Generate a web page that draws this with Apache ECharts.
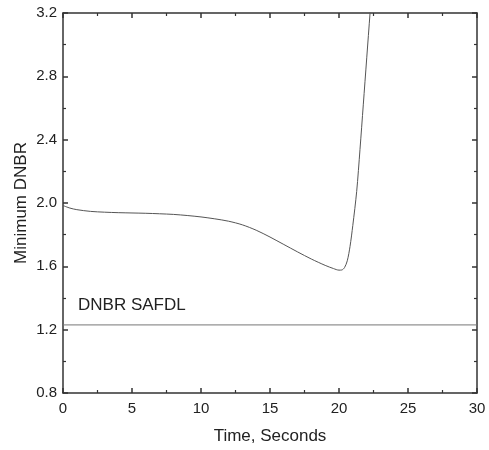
<!DOCTYPE html>
<html>
<head>
<meta charset="utf-8">
<script src="https://cdn.jsdelivr.net/npm/echarts@6/dist/echarts.min.js"></script>
<style>
html,body{margin:0;padding:0;background:#fff;}
#chart{width:489px;height:450px;}
</style>
</head>
<body>
<div id="chart"></div>
<script>
// Data
const timeSec = [0, 0.5, 1, 2, 3, 4, 5, 6, 7, 8, 9, 10, 11, 12, 13, 14, 15, 16, 17, 18, 19, 19.6, 20, 20.2, 20.4, 20.6, 20.8, 21.0, 21.28, 21.52, 21.76, 22.01, 22.25, 22.5];
const minDNBR = [1.984, 1.968, 1.958, 1.947, 1.942, 1.939, 1.937, 1.935, 1.932, 1.928, 1.921, 1.912, 1.900, 1.885, 1.862, 1.828, 1.785, 1.738, 1.691, 1.646, 1.606, 1.586, 1.576, 1.577, 1.592, 1.635, 1.726, 1.858, 2.072, 2.337, 2.62, 2.917, 3.2, 3.5];
const safdlValue = 1.23;
const safdlLabel = 'DNBR SAFDL';
const xTicks = [0, 5, 10, 15, 20, 25, 30];
const yTicks = [0.8, 1.2, 1.6, 2.0, 2.4, 2.8, 3.2];

const chart = echarts.init(document.getElementById('chart'));
const font = 'Liberation Sans, Arial, sans-serif';
const axisCol = '#333';

const curve = timeSec.map((t, i) => [t, minDNBR[i]]);
const safdl = [[xTicks[0], safdlValue], [xTicks[xTicks.length - 1], safdlValue]];

function xAx(pos, labels) {
  return {
    type: 'value', position: pos, min: 0, max: 30, interval: 5,
    axisLine: {show: true, onZero: false, lineStyle: {color: axisCol, width: 1.5}},
    axisTick: {show: true, inside: true, length: 5, lineStyle: {color: axisCol, width: 1.5}},
    minorTick: {show: true, splitNumber: 2, length: 3, lineStyle: {color: axisCol, width: 1.2}},
    axisLabel: {show: labels, color: '#222', fontSize: 15, fontFamily: font, margin: 8},
    splitLine: {show: false},
    name: labels ? 'Time, Seconds' : '', nameLocation: 'middle', nameGap: 35,
    nameMoveOverlap: false,
    nameTextStyle: {color: '#222', fontSize: 17, fontFamily: font}
  };
}
function yAx(pos, labels) {
  return {
    type: 'value', position: pos, min: 0.8, max: 3.2, interval: 0.4,
    axisLine: {show: true, onZero: false, lineStyle: {color: axisCol, width: 1.5}},
    axisTick: {show: true, inside: true, length: 5, lineStyle: {color: axisCol, width: 1.5}},
    minorTick: {show: true, splitNumber: 2, length: 3, lineStyle: {color: axisCol, width: 1.2}},
    axisLabel: {show: labels, color: '#222', fontSize: 15, fontFamily: font, margin: 6,
      formatter: v => v.toFixed(1)},
    splitLine: {show: false},
    name: labels ? 'Minimum DNBR' : '', nameLocation: 'middle', nameGap: 33,
    nameMoveOverlap: false,
    nameTextStyle: {color: '#222', fontSize: 17, fontFamily: font}
  };
}

chart.setOption({
  animation: false,
  backgroundColor: '#fff',
  grid: {left: 63, right: 12, top: 13, bottom: 56, containLabel: false},
  xAxis: [xAx('bottom', true), xAx('top', false)],
  yAxis: [yAx('left', true), yAx('right', false)],
  series: [
    {type: 'line', data: curve, showSymbol: false, smooth: 0.3, clip: true,
     lineStyle: {color: '#555', width: 1}, xAxisIndex: 0, yAxisIndex: 0},
    {type: 'line', data: safdl, showSymbol: false, clip: true,
     lineStyle: {color: '#777', width: 1}, xAxisIndex: 0, yAxisIndex: 0}
  ],
  graphic: [{
    type: 'text', left: 78, top: 297,
    style: {text: safdlLabel, fontSize: 17, fontFamily: font, fill: '#222'}
  }]
});
</script>
</body>
</html>
